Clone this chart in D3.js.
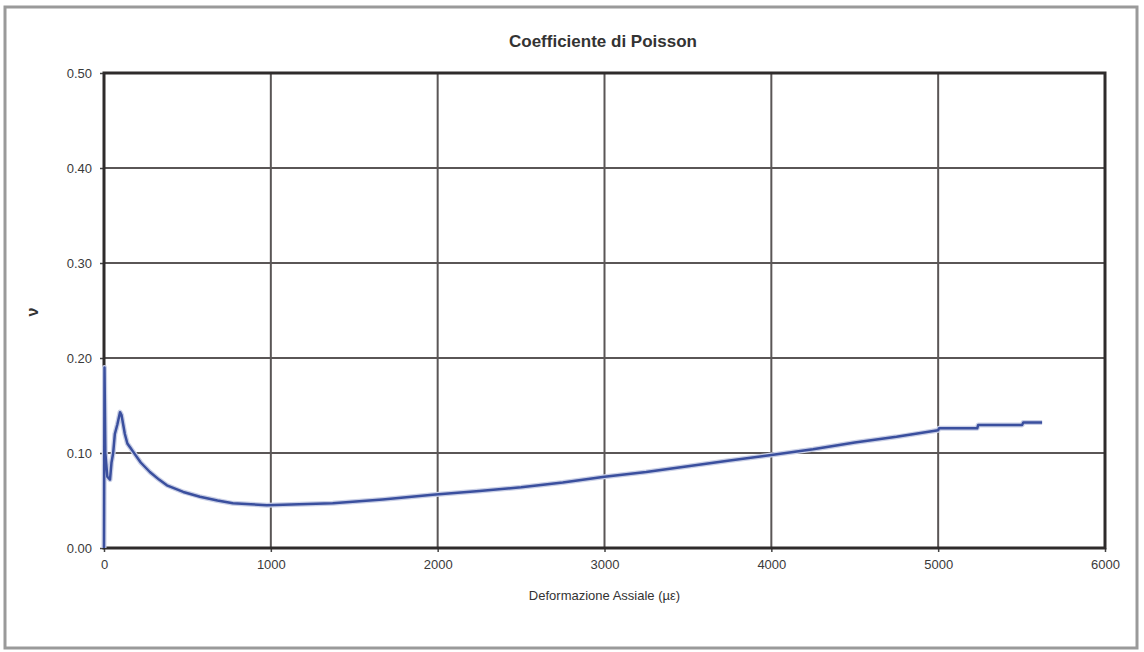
<!DOCTYPE html>
<html>
<head>
<meta charset="utf-8">
<script src="https://cdn.jsdelivr.net/npm/d3@7"></script>
<style>
  html, body { margin: 0; padding: 0; background: #fff; }
  svg { display: block; font-family: "Liberation Sans", Arial, sans-serif; }
</style>
</head>
<body>
<div id="chart"></div>
<script>
// Poisson coefficient vs axial strain (µε)
const strain = [0, 3, 8, 20, 36, 45, 55, 65, 80, 96, 105, 115, 125, 140, 156, 168, 220, 275, 330, 377, 475, 575, 680, 773, 880, 976, 1170, 1371, 1670, 1970, 2250, 2500, 2750, 3000, 3250, 3500, 3750, 4000, 4250, 4500, 4750, 5000, 5005, 5234, 5240, 5503, 5510, 5623];
const nu     = [0, 0.19, 0.10, 0.075, 0.072, 0.09, 0.10, 0.12, 0.13, 0.143, 0.14, 0.13, 0.12, 0.11, 0.106, 0.103, 0.090, 0.080, 0.072, 0.066, 0.059, 0.054, 0.050, 0.047, 0.046, 0.045, 0.046, 0.047, 0.051, 0.056, 0.060, 0.064, 0.069, 0.075, 0.080, 0.086, 0.092, 0.098, 0.104, 0.111, 0.117, 0.124, 0.126, 0.126, 0.1295, 0.1295, 0.132, 0.132];

const xTicks = [0, 1000, 2000, 3000, 4000, 5000, 6000];
const yTicks = [0, 0.1, 0.2, 0.3, 0.4, 0.5];

const W = 1144, H = 652;
const margin = { top: 73, right: 39, bottom: 104, left: 104 };
const w = W - margin.left - margin.right;
const h = H - margin.top - margin.bottom;

const svg = d3.select("#chart").append("svg")
  .attr("width", W).attr("height", H);

// outer frame
svg.append("rect")
  .attr("x", 5).attr("y", 7).attr("width", 1132).attr("height", 641)
  .attr("fill", "#fff").attr("stroke", "#9a9a9a").attr("stroke-width", 3);

const x = d3.scaleLinear().domain([0, 6000]).range([0, w]);
const y = d3.scaleLinear().domain([0, 0.5]).range([h, 0]);

const g = svg.append("g").attr("transform", `translate(${margin.left},${margin.top})`);

// grid
g.append("g")
  .selectAll("line").data(xTicks).join("line")
  .attr("x1", d => x(d)).attr("x2", d => x(d))
  .attr("y1", 0).attr("y2", h)
  .attr("stroke", "#5a5656").attr("stroke-width", 2);
g.append("g")
  .selectAll("line").data(yTicks).join("line")
  .attr("x1", 0).attr("x2", w)
  .attr("y1", d => y(d)).attr("y2", d => y(d))
  .attr("stroke", "#5a5656").attr("stroke-width", 2);

// axes
const xAxis = g.append("g")
  .attr("transform", `translate(0,${h})`)
  .call(d3.axisBottom(x).tickValues(xTicks).tickFormat(d3.format("d")).tickSize(4).tickPadding(8));
const yAxis = g.append("g")
  .call(d3.axisLeft(y).tickValues(yTicks).tickFormat(d3.format(".2f")).tickSize(4).tickPadding(8));
[xAxis, yAxis].forEach(a => {
  a.select(".domain").remove();
  a.selectAll(".tick line").attr("stroke", "#444").attr("stroke-width", 1.5);
  a.selectAll(".tick text").attr("font-size", 13).attr("fill", "#3a3a3a")
    .attr("font-family", "Liberation Sans, Arial, sans-serif");
});

// plot border
g.append("rect")
  .attr("x", 0).attr("y", 0).attr("width", w).attr("height", h)
  .attr("fill", "none").attr("stroke", "#2e2b2b").attr("stroke-width", 3);

// series
const pts = strain.map((s, i) => [s, nu[i]]);
const line = d3.line().x(d => x(d[0])).y(d => y(d[1]));
g.append("path")
  .datum(pts)
  .attr("d", line)
  .attr("fill", "none")
  .attr("stroke", "#c9cfe6").attr("stroke-width", 5).attr("stroke-linejoin", "round");
g.append("path")
  .datum(pts)
  .attr("d", line)
  .attr("fill", "none")
  .attr("stroke", "#3a4f9e").attr("stroke-width", 2.5).attr("stroke-linejoin", "round");

// title
svg.append("text")
  .attr("x", 603).attr("y", 47)
  .attr("text-anchor", "middle").attr("font-size", 17).attr("font-weight", "bold")
  .attr("fill", "#333").text("Coefficiente di Poisson");

// axis titles
svg.append("text")
  .attr("x", margin.left + w / 2).attr("y", 600)
  .attr("text-anchor", "middle").attr("font-size", 13).attr("fill", "#333")
  .text("Deformazione Assiale (µε)");
svg.append("text")
  .attr("transform", "rotate(-90)")
  .attr("x", -312).attr("y", 38)
  .attr("text-anchor", "middle").attr("font-size", 16).attr("font-weight", "bold").attr("fill", "#333")
  .text("ν");
</script>
</body>
</html>
